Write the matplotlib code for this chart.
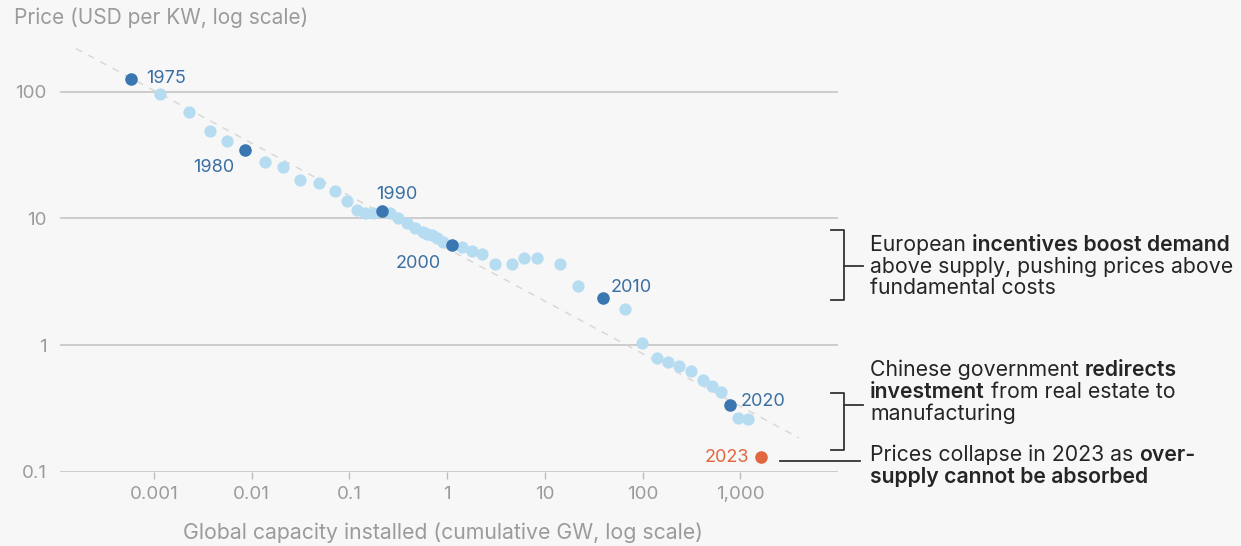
import numpy as np
import matplotlib.pyplot as plt
from matplotlib.lines import Line2D

plt.rcParams['font.family'] = ['Inter', 'DejaVu Sans']

# solar PV module price vs cumulative installed capacity, 1975-2023
years = list(range(1975, 2024))
capacity_gw = [0.00058, 0.00115, 0.0023, 0.00375, 0.0056, 0.0086, 0.0137, 0.0208, 0.0313, 0.049,
               0.071, 0.094, 0.119, 0.145, 0.175, 0.215, 0.261, 0.315, 0.387, 0.47,
               0.568, 0.624, 0.697, 0.785, 0.91, 1.12, 1.42, 1.79, 2.28, 3.1,
               4.6, 6.1, 8.3, 14.3, 21.9, 39.2, 66.4, 98.4, 140, 183,
               237, 314, 414, 515, 637, 789, 951, 1205, 1637]
price_usd_kw = [125.7, 95.2, 69.0, 49.1, 40.9, 34.6, 27.7, 25.3, 20.0, 19.1,
                16.5, 13.7, 11.6, 11.0, 11.1, 11.5, 11.0, 10.05, 9.18, 8.38,
                7.8, 7.59, 7.38, 7.0, 6.53, 6.15, 5.93, 5.52, 5.23, 4.36,
                4.36, 4.86, 4.86, 4.36, 2.94, 2.35, 1.92, 1.04, 0.794, 0.734,
                0.683, 0.627, 0.529, 0.474, 0.428, 0.340, 0.267, 0.261, 0.131]
labeled_years = [1975, 1980, 1990, 2000, 2010, 2020]

# experience-curve trend: price at 1 GW and learning rate per doubling
trend_price_1gw = 5.8
learning_rate = 0.25

x_ticks = [0.001, 0.01, 0.1, 1, 10, 100, 1000]
x_tick_labels = ['0.001', '0.01', '0.1', '1', '10', '100', '1,000']
y_ticks = [0.1, 1, 10, 100]
y_tick_labels = ['0.1', '1', '10', '100']

W, H = 1241, 546
BG = '#f7f7f7'
LIGHT = '#b6dcf2'
DARK = '#3a77b0'
TXT_BLUE = '#3a6fa3'
ORANGE = '#e2663f'
GRAY = '#9b9b9b'
INK = '#252525'

fig = plt.figure(figsize=(W / 100, H / 100), dpi=100, facecolor=BG)
ax = fig.add_axes([60 / W, 1 - 472 / H, 778 / W, 437.4 / H])
ax.set_facecolor(BG)
ax.set_xscale('log')
ax.set_yscale('log')
ax.set_xlim(10 ** -3.962, 10 ** 4.0)
ax.set_ylim(0.1, 10 ** 2.45)

for s in ax.spines.values():
    s.set_visible(False)

ax.set_yticks(y_ticks)
ax.set_yticklabels(y_tick_labels)
ax.set_xticks(x_ticks)
ax.set_xticklabels(x_tick_labels)
ax.minorticks_off()
ax.yaxis.grid(True, color='#c9c9c9', lw=1.3)
ax.set_axisbelow(True)
ax.tick_params(axis='y', length=0, pad=9.5, labelsize=13.5, labelcolor=GRAY)
ax.tick_params(axis='x', length=5, width=1, color='#bbbbbb', pad=5, labelsize=13.5, labelcolor=GRAY)

# dashed experience-curve trend
tx = np.logspace(-3.8, 3.6, 50)
ax.plot(tx, trend_price_1gw * tx ** np.log2(1 - learning_rate), ls=(0, (5, 5)),
        color='#d6d6d6', lw=1, zorder=1)

light_x = [c for y, c in zip(years, capacity_gw) if y not in labeled_years and y != 2023]
light_y = [p for y, p in zip(years, price_usd_kw) if y not in labeled_years and y != 2023]
dark_x = [capacity_gw[years.index(y)] for y in labeled_years]
dark_y = [price_usd_kw[years.index(y)] for y in labeled_years]

ax.scatter(light_x, light_y, s=78, color=LIGHT, lw=0, zorder=3)
ax.scatter(dark_x, dark_y, s=82, color=DARK, lw=0, zorder=4)
ax.scatter([capacity_gw[-1]], [price_usd_kw[-1]], s=82, color=ORANGE, lw=0, zorder=4)

label_pos = {1975: ((15, 1), 'left'), 1980: ((-11, -17), 'right'), 1990: ((15, 16), 'center'),
             2000: ((-11, -18), 'right'), 2010: ((8, 11), 'left'), 2020: ((10, 3), 'left')}
for yr in labeled_years:
    off, ha = label_pos[yr]
    i = years.index(yr)
    ax.annotate(str(yr), (capacity_gw[i], price_usd_kw[i]), xytext=off, textcoords='offset pixels',
                ha=ha, va='center', fontsize=13, color=TXT_BLUE)
ax.annotate('2023', (capacity_gw[-1], price_usd_kw[-1]), xytext=(-12, 0), textcoords='offset pixels',
            ha='right', va='center', fontsize=13, color=ORANGE)

fig.text(14 / W, 1 - 18 / H, 'Price (USD per KW, log scale)', fontsize=15, color=GRAY, va='center')
fig.text(443 / W, 1 - 533 / H, 'Global capacity installed (cumulative GW, log scale)',
         fontsize=15.3, color=GRAY, ha='center', va='center')


def seg(xs, ys):
    fig.add_artist(Line2D([x / W for x in xs], [1 - y / H for y in ys], color='#333333', lw=1.3,
                          transform=fig.transFigure))


renderer = fig.canvas.get_renderer()


def rich(x, y, parts, size=15.3):
    for s, w in parts:
        t = fig.text(x / W, 1 - y / H, s, fontsize=size, fontweight=w, color=INK, va='center', ha='left')
        x += t.get_window_extent(renderer).width


# bracket 1
seg([831, 844, 844, 831], [230, 230, 300, 300])
seg([844, 863], [266, 266])
rich(870, 245, [('European ', 'normal'), ('incentives boost demand', 'semibold')])
rich(870, 266.5, [('above supply, pushing prices above', 'normal')])
rich(870, 288, [('fundamental costs', 'normal')])

# bracket 2
seg([831, 844, 844, 831], [393, 393, 450, 450])
seg([844, 863], [405, 405])
rich(870, 370, [('Chinese government ', 'normal'), ('redirects', 'semibold')])
rich(870, 392, [('investment', 'semibold'), (' from real estate to', 'normal')])
rich(870, 414, [('manufacturing', 'normal')])

# 2023 pointer
seg([780, 860], [461, 461])
rich(870, 455, [('Prices collapse in 2023 as ', 'normal'), ('over-', 'semibold')])
rich(870, 477, [('supply cannot be absorbed', 'semibold')])

fig.savefig('out.png', dpi=100, facecolor=BG)
